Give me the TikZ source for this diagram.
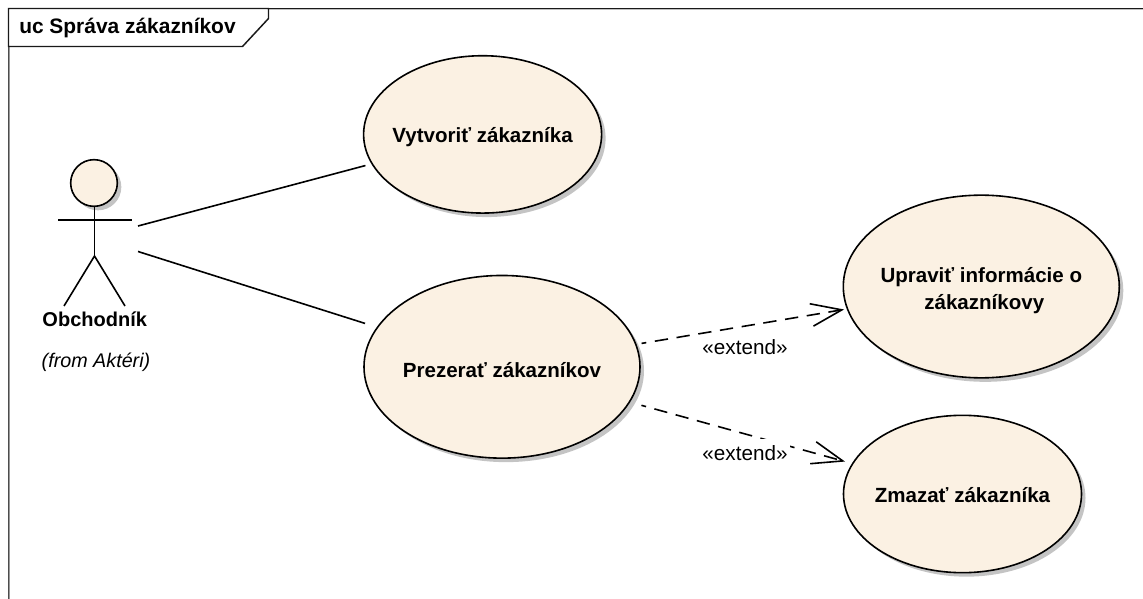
\documentclass[tikz,border=0pt]{standalone}
\usepackage{fontspec}
\setmainfont{Liberation Sans}
\usetikzlibrary{shapes.geometric,shadows,arrows.meta}
\definecolor{ucfill}{HTML}{FBF1E3}
\definecolor{ucshadow}{HTML}{C4C4C4}
\newcommand{\ucfont}{\fontsize{15.4}{19.7}\selectfont\bfseries}
\newcommand{\extfont}{\fontsize{15.5}{18}\selectfont}
\newcommand{\lowered}[2]{\makebox[0pt]{\raisebox{-#1}[0pt][0pt]{#2}}}
\tikzset{
  ln/.style={line width=1.2pt,black},
  ucase/.style={ellipse,draw=black,line width=1.2pt,fill=ucfill,inner sep=0pt,outer sep=0pt,
    font=\ucfont,drop shadow={shadow xshift=3pt,shadow yshift=-3pt,fill=ucshadow,opacity=1}},
  bigcase/.style={ucase,minimum width=207pt,minimum height=137pt},
  smallcase/.style={ucase,minimum width=178.5pt,minimum height=118pt},
  extendrel/.style={ln,dash pattern=on 10pt off 6.5pt,dash phase=6.4pt,
    -{Straight Barb[length=23pt,width=17pt,line width=1.2pt]}},
  extlabel/.style={font=\extfont,inner sep=0pt,minimum width=67.5pt,minimum height=21.5pt},
  txt/.style={inner sep=0pt,anchor=base}
}
\begin{document}
\begin{tikzpicture}[x=0.75pt,y=-0.75pt]
\useasboundingbox (0,0) rectangle (1143,599);
% frame
\coordinate (frameTR) at (1143,8.5);
\coordinate (frameTL) at (8.5,8.5);
\coordinate (frameBL) at (8.5,599);
\draw[line width=0.7pt,black!25] (9.8,9.7) -- (1143,9.7);
\draw[line width=0.8pt,black!40] (9.8,9.5) -- (9.8,599);
\draw[line width=1.1pt,black!70] (frameTL) -- (frameBL);
\draw[line width=1.1pt,black!90] (frameTL) -- (frameTR);
\draw[line width=1.1pt,black!90,fill=white] (frameTL) -- (268.5,8.5) -- (268.5,18.5) -- (242.5,46.5) -- (8.5,46.5) -- cycle;
\node[txt,anchor=base west,font=\fontsize{15.7}{19.7}\selectfont\bfseries] (title) at (19,34) {uc Správa zákazníkov};
% use cases
\node[smallcase] (vyt) at (482.6,134.4) {\lowered{6.2pt}{Vytvoriť zákazníka}};
\node[bigcase] (prez) at (502,366.8) {\lowered{7.9pt}{Prezerať zákazníkov}};
\node[bigcase] (upr) at (981.3,286.5) {\lowered{16.9pt}{\begin{tabular}[b]{@{}c@{}}Upraviť informácie o\\\hspace{4.5pt}zákazníkovy\end{tabular}}};
\node[smallcase] (zma) at (962.5,494) {\lowered{6.5pt}{Zmazať zákazníka}};
% actor
\node[circle,draw=black,line width=1.2pt,fill=ucfill,minimum size=35pt,inner sep=0pt,outer sep=0pt,
  drop shadow={shadow xshift=3pt,shadow yshift=-3pt,fill=ucshadow,opacity=1}] (head) at (94,183) {};
\coordinate (hip) at (94.5,256);
\coordinate (armL) at (58,220);
\coordinate (armR) at (132,220);
\coordinate (footL) at (64,306);
\coordinate (footR) at (125,306);
\coordinate (neck) at (94.5,206);
\draw[ln] (neck) -- (hip);
\draw[ln] (armL) -- (armR);
\draw[ln] (footL) -- (hip) -- (footR);
\node[txt,font=\fontsize{15}{19}\selectfont\bfseries] (actor) at (94.7,326.7) {Obchodník};
\node[txt,font=\fontsize{14.8}{18}\selectfont\itshape] (from) at (96,367) {(from Aktéri)};
% connectors
\coordinate (assocA) at (138,226);
\coordinate (assocB) at (138,251.5);
\draw[ln,shorten >=5.2pt] (assocA) -- (vyt);
\draw[ln,shorten >=9.8pt] (assocB) -- (prez);
\draw[extendrel,shorten <=4.4pt,shorten >=2.6pt] (prez) -- (upr);
\draw[extendrel,shorten <=9.4pt,shorten >=6pt] (prez) -- (zma);
\node[extlabel] (ext1) at (745,348) {\lowered{5.2pt}{«extend»}};
\node[extlabel,fill=white] (ext2) at (745,453.75) {\lowered{5.2pt}{«extend»}};
\end{tikzpicture}
\end{document}
